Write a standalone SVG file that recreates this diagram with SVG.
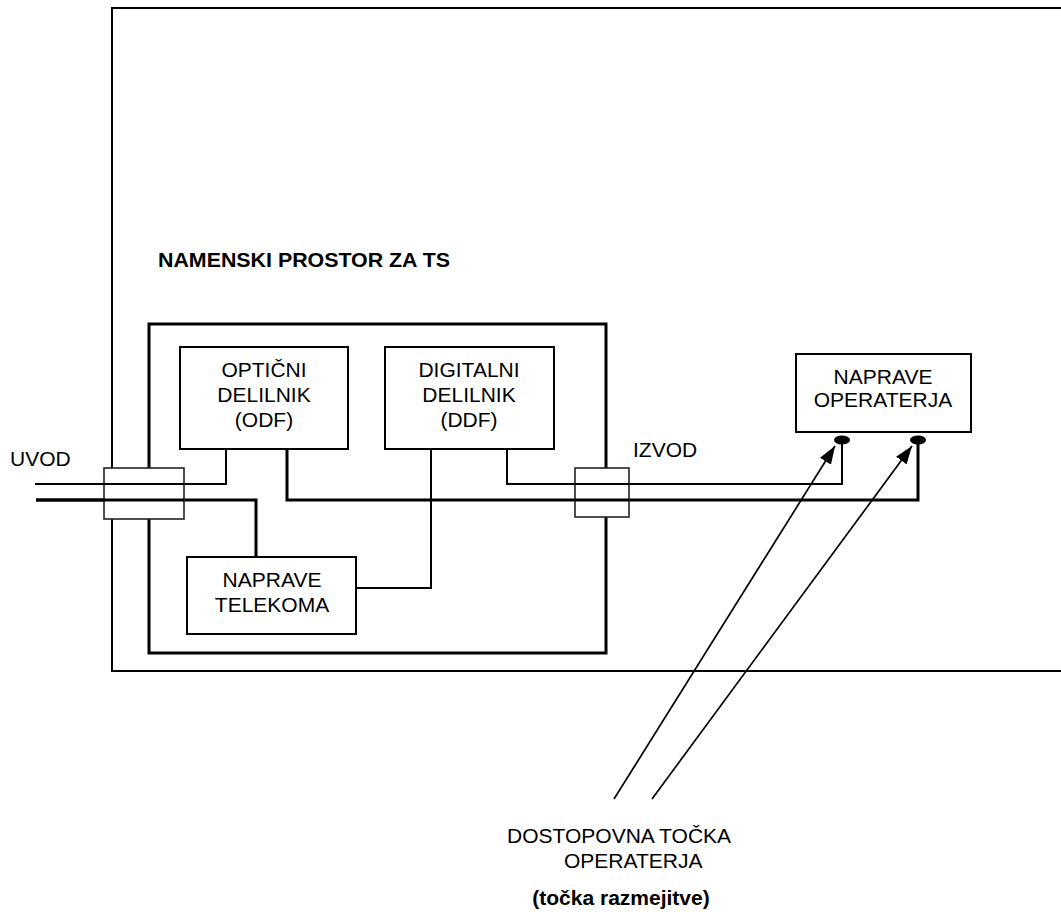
<svg xmlns="http://www.w3.org/2000/svg" width="1061" height="915" viewBox="0 0 1061 915">
<style>
text{font-family:"Liberation Sans",Arial,sans-serif;font-size:21px;fill:#000}
.c{text-anchor:middle}
.b{font-weight:bold;font-size:21px}
.box{fill:#fff;stroke:#000;stroke-width:2}
.ft{fill:#fff;stroke:#222;stroke-width:1.6}
.w{fill:none;stroke:#000;stroke-width:2}
.w3{fill:none;stroke:#000;stroke-width:3}
.ar{fill:none;stroke:#000;stroke-width:1.7}
</style>
<defs>
<marker id="ah" markerUnits="userSpaceOnUse" markerWidth="19" markerHeight="13" refX="18" refY="6.5" orient="auto">
<path d="M0,0 L18,6.5 L0,13 z" fill="#000"/>
</marker>
</defs>
<rect width="1061" height="915" fill="#fff"/>
<g id="frame">
<path d="M1061,8 H112 V671 H1061" class="w"/>
<text class="b" x="158" y="267" textLength="292" lengthAdjust="spacingAndGlyphs">NAMENSKI PROSTOR ZA TS</text>
</g>
<g id="ts-room">
<rect x="149" y="324" width="457" height="329" class="w3"/>
</g>
<g id="connectors">
<path d="M35,484 H226 V449" class="w"/>
<path d="M36,500 H256 V557" class="w3"/>
<path d="M287,449 V500 H918 V441" class="w3"/>
<path d="M431,449 V588 H356" class="w"/>
<path d="M507,449 V484 H842 V441" class="w"/>
<path d="M614,799 L835,446" class="ar" marker-end="url(#ah)"/>
<path d="M652,799 L912,446" class="ar" marker-end="url(#ah)"/>
</g>
<g id="uvod">
<rect x="104" y="468" width="80" height="51" class="ft"/>
<path d="M35,484 H184" class="w"/>
<path d="M36,500 H184" class="w3"/>
<text x="10" y="466">UVOD</text>
</g>
<g id="izvod">
<rect x="575" y="468" width="54" height="49" class="ft"/>
<path d="M575,484 H629" class="w"/>
<path d="M575,500 H629" class="w3"/>
<text x="633" y="457">IZVOD</text>
</g>
<g id="odf">
<rect x="180" y="347" width="168" height="102" class="box"/>
<text class="c" x="264" y="377">OPTIČNI</text>
<text class="c" x="264" y="402">DELILNIK</text>
<text class="c" x="264" y="427">(ODF)</text>
</g>
<g id="ddf">
<rect x="385" y="347" width="169" height="102" class="box"/>
<text class="c" x="469" y="377">DIGITALNI</text>
<text class="c" x="469" y="402">DELILNIK</text>
<text class="c" x="469" y="427">(DDF)</text>
</g>
<g id="telekom">
<rect x="187" y="557" width="169" height="77" class="box"/>
<text class="c" x="272" y="587">NAPRAVE</text>
<text class="c" x="272" y="612">TELEKOMA</text>
</g>
<g id="operater">
<rect x="796" y="354" width="175" height="78" class="box"/>
<text class="c" x="883" y="384">NAPRAVE</text>
<text class="c" x="883" y="407">OPERATERJA</text>
<ellipse cx="842" cy="440" rx="8" ry="4.5" fill="#000"/>
<ellipse cx="918" cy="440" rx="8" ry="4.5" fill="#000"/>
</g>
<g id="access-label">
<text x="507" y="843">DOSTOPOVNA TOČKA</text>
<text x="564" y="868">OPERATERJA</text>
<text class="b c" x="621" y="905">(točka razmejitve)</text>
</g>
</svg>
